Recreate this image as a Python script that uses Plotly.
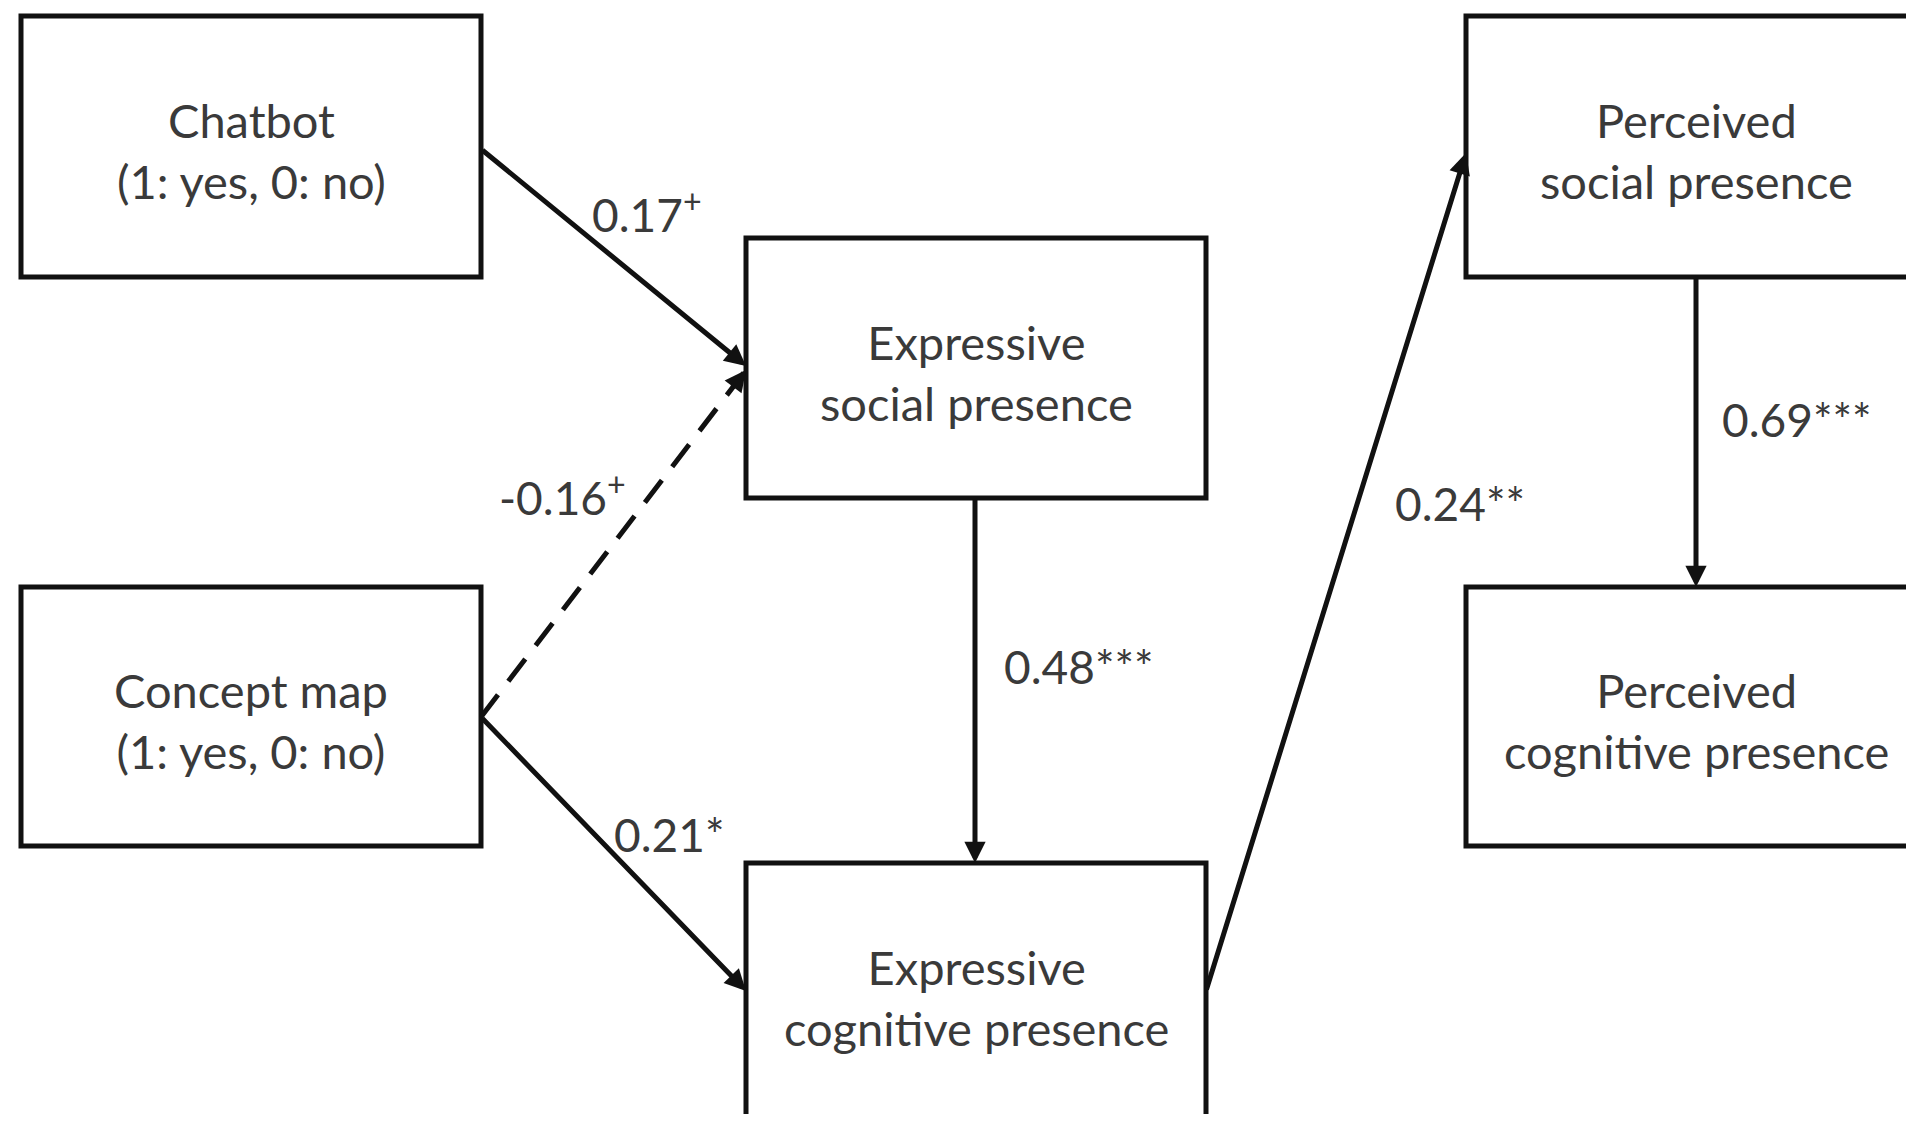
import plotly.graph_objects as go

# ---- data ----
node_names = [
    "Chatbot<br>(1: yes, 0: no)",
    "Concept map<br>(1: yes, 0: no)",
    "Expressive<br>social presence",
    "Expressive<br>cognitive presence",
    "Perceived<br>social presence",
    "Perceived<br>cognitive presence",
]
edge_from = [0, 1, 1, 2, 3, 4]
edge_to = [2, 2, 3, 3, 4, 5]
coefficients = [0.17, -0.16, 0.21, 0.48, 0.24, 0.69]
significance = ["+", "+", "*", "***", "**", "***"]
superscript = [True, True, False, False, False, False]
dashed = [False, True, False, False, False, False]

# ---- layout (pixel coordinates of the page) ----
W, H = 1914, 1122
PAD = 8  # page body margin
boxes = [  # x0, y0, x1, y1
    (21, 16, 481, 277),
    (21, 587, 481, 846),
    (746, 238, 1206, 498),
    (746, 863, 1206, 1140),
    (1466, 16, 1960, 277),
    (1466, 587, 1960, 846),
]
edge_start = [(481, 149), (481, 717), (481, 717), (975, 498), (1206, 991), (1696, 277)]
edge_end = [(746, 366), (746, 370), (746, 991), (975, 863), (1466, 153), (1696, 587)]
label_pos = [(647, 211), (562, 494), (669, 834), (1079, 666), (1460, 503), (1797, 419)]

FONT = "Lato"
TXT = "#3a3a3a"
LC = "#111111"

fig = go.Figure()
fig.add_trace(go.Scatter(x=[PAD, W - PAD], y=[PAD, H - PAD], mode="markers",
                         marker=dict(opacity=0), hoverinfo="skip", showlegend=False))

shapes = []
annotations = []
for (x0, y0, x1, y1), name in zip(boxes, node_names):
    shapes.append(dict(type="rect", xref="x", yref="y", x0=x0, y0=y0, x1=x1, y1=y1,
                       line=dict(color=LC, width=5), fillcolor="white", layer="below"))
    cx = (x0 + min(x1, 1926)) / 2
    annotations.append(dict(x=cx, y=(y0 + min(y1, 1124)) / 2 + 4, xref="x", yref="y",
                            text=name, showarrow=False,
                            font=dict(family=FONT, size=47, color=TXT)))

for i in range(len(coefficients)):
    (sx, sy), (ex, ey) = edge_start[i], edge_end[i]
    if dashed[i]:
        shapes.append(dict(type="line", xref="x", yref="y", x0=sx, y0=sy, x1=ex, y1=ey,
                           line=dict(color=LC, width=5, dash="28px,17px")))
        dx, dy = ex - sx, ey - sy
        L = (dx * dx + dy * dy) ** 0.5
        annotations.append(dict(x=ex, y=ey, ax=ex - dx / L * 24, ay=ey - dy / L * 24,
                                xref="x", yref="y", axref="x", ayref="y", text="",
                                showarrow=True, arrowhead=2, arrowsize=0.85,
                                arrowwidth=5, arrowcolor=LC))
    else:
        annotations.append(dict(x=ex, y=ey, ax=sx, ay=sy, xref="x", yref="y",
                                axref="x", ayref="y", text="", showarrow=True,
                                arrowhead=2, arrowsize=0.85, arrowwidth=5,
                                arrowcolor=LC))
    val = f"{coefficients[i]:.2f}"
    lab = val + (f"<sup>{significance[i]}</sup>" if superscript[i] else significance[i])
    lx, ly = label_pos[i]
    annotations.append(dict(x=lx, y=ly, xref="x", yref="y", text=lab, showarrow=False,
                            font=dict(family=FONT, size=46, color=TXT)))

fig.update_layout(
    width=W - 2 * PAD, height=H - 2 * PAD, margin=dict(l=0, r=0, t=0, b=0),
    paper_bgcolor="white", plot_bgcolor="white",
    xaxis=dict(range=[PAD, W - PAD], visible=False, fixedrange=True),
    yaxis=dict(range=[H - PAD, PAD], visible=False, fixedrange=True),
    shapes=shapes, annotations=annotations, showlegend=False,
)
fig.write_html("out.html")
